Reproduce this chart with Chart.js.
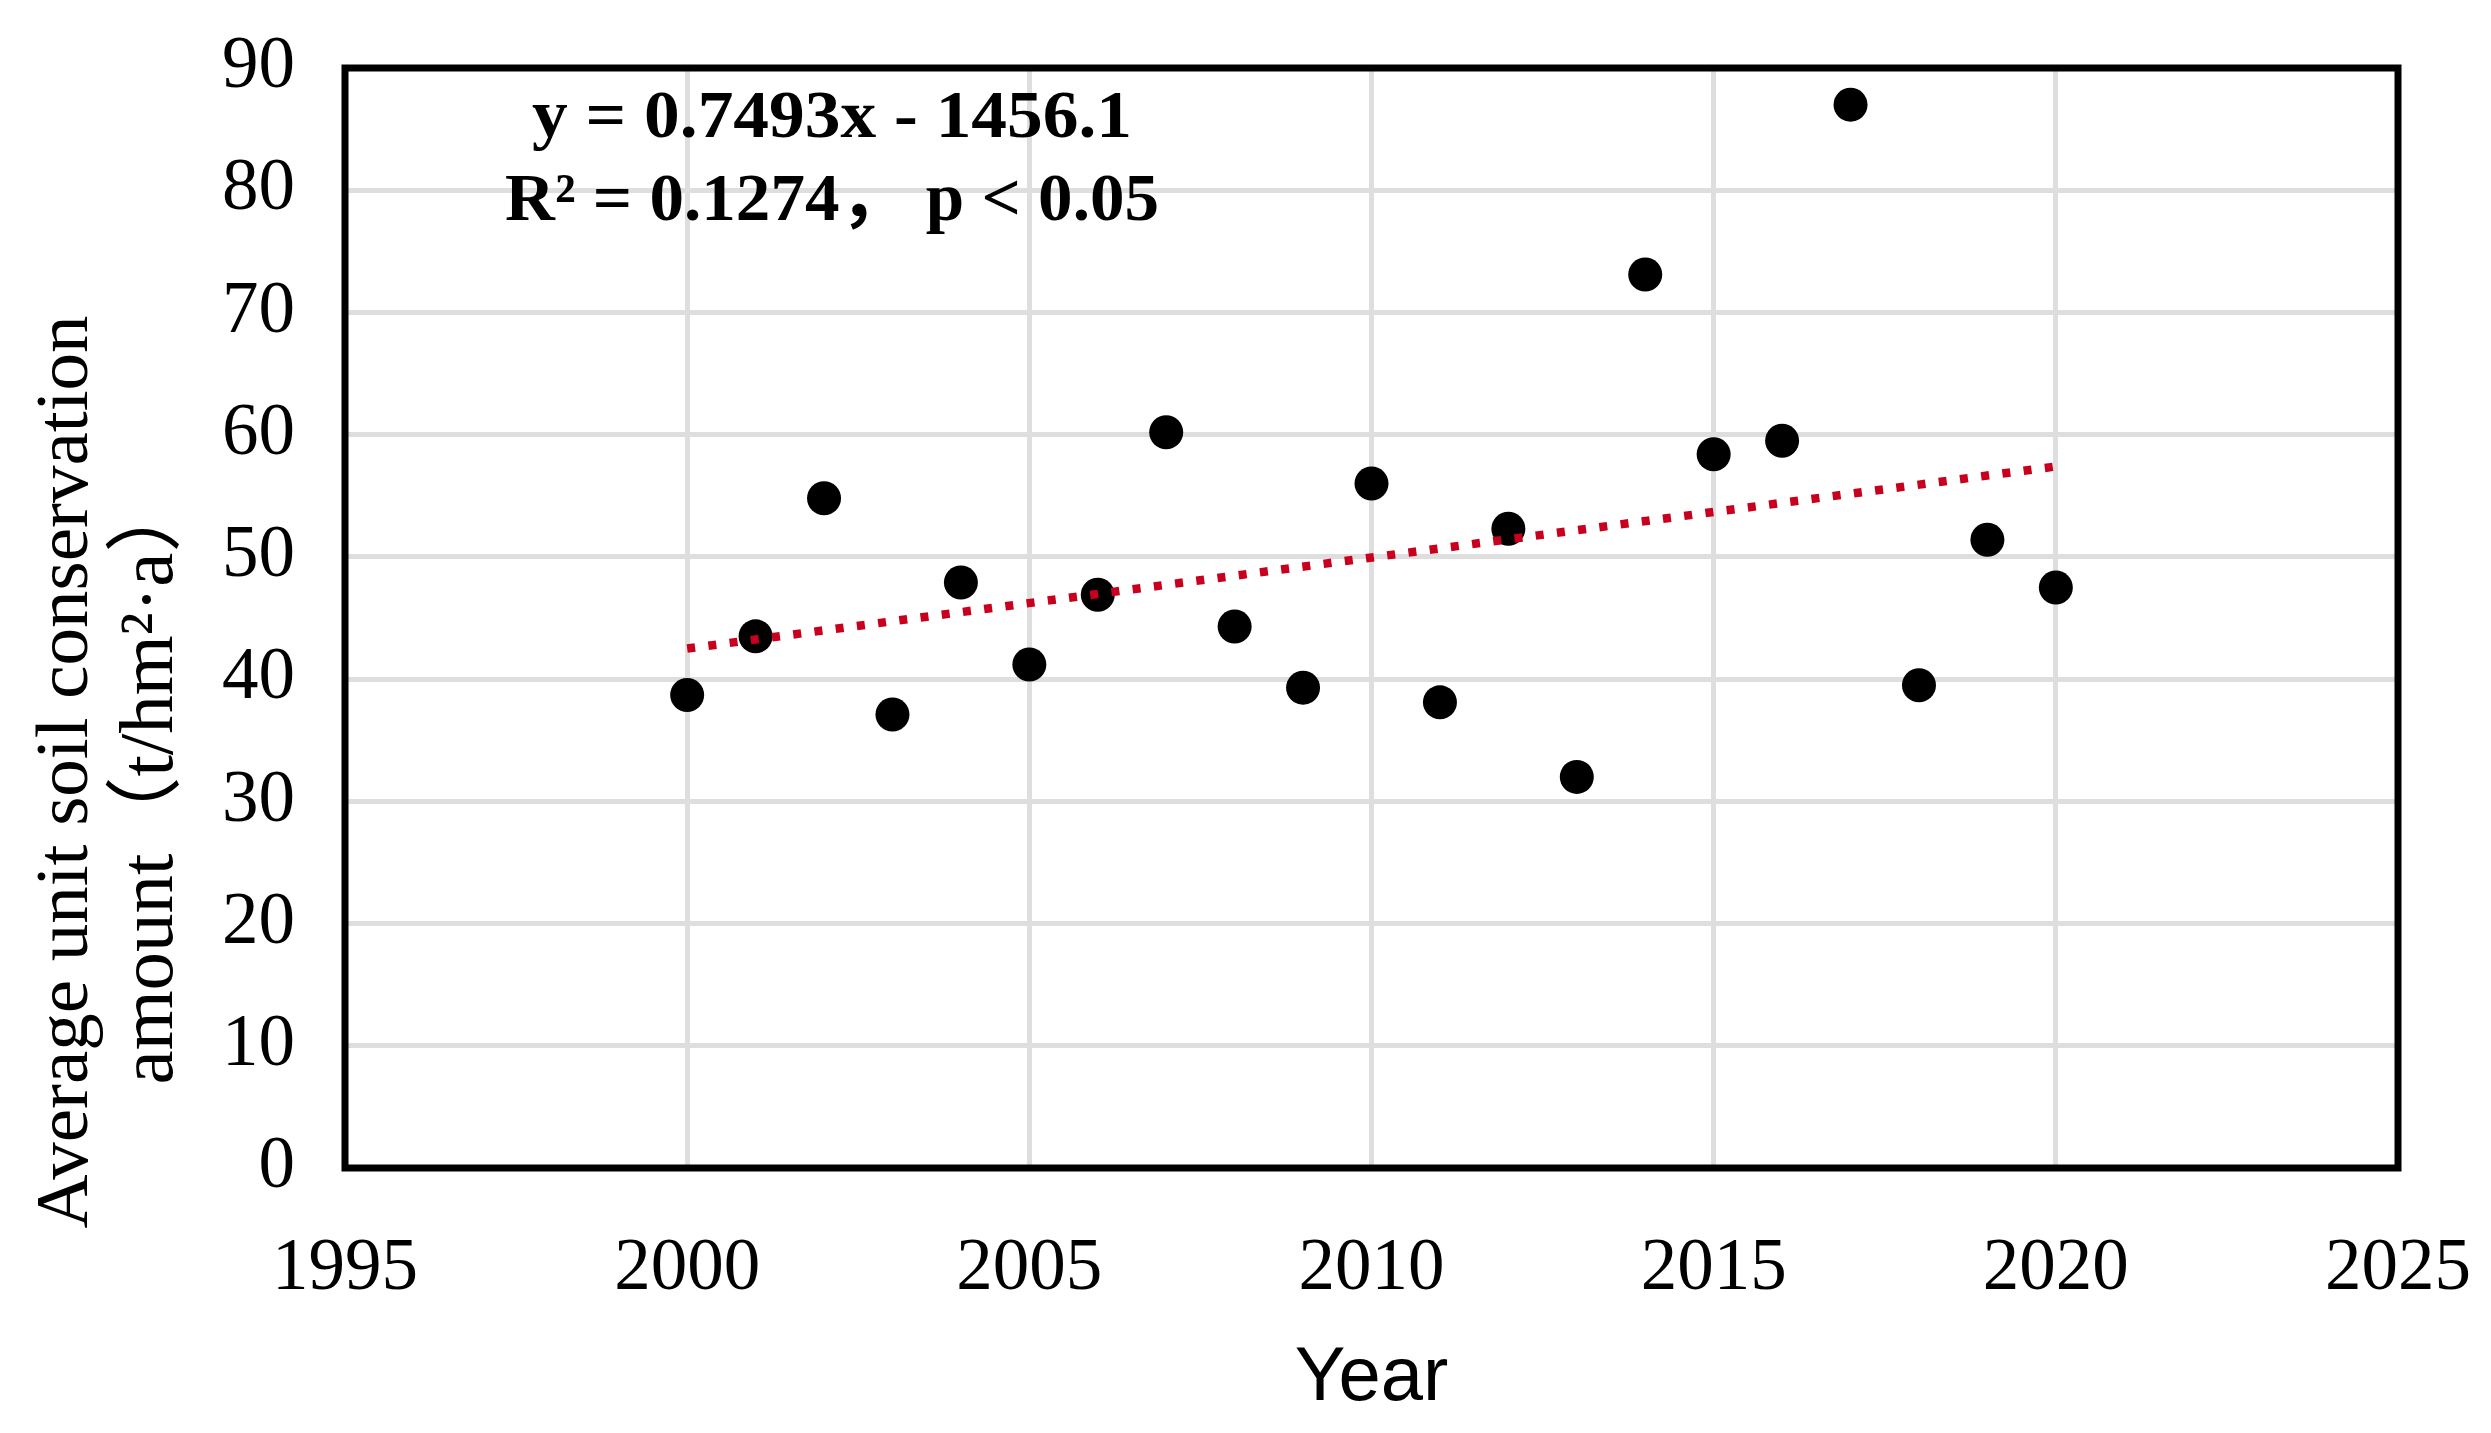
<!DOCTYPE html>
<html>
<head>
<meta charset="utf-8">
<title>Average unit soil conservation amount</title>
<script src="https://cdn.jsdelivr.net/npm/chart.js@4.4.1/dist/chart.umd.min.js"></script>
<style>
  body { margin: 0; background: #fff; }
  #wrap { width: 2491px; height: 1433px; position: relative; }
</style>
</head>
<body>
<div id="wrap"><canvas id="soilChart"></canvas></div>
<script>
// Values
const years = [2000, 2001, 2002, 2003, 2004, 2005, 2006, 2007, 2008, 2009, 2010,
               2011, 2012, 2013, 2014, 2015, 2016, 2017, 2018, 2019, 2020];
const soilValues = [38.7, 43.5, 54.8, 37.1, 47.9, 41.2, 46.9, 60.2, 44.3, 39.3, 56.0,
                    38.1, 52.3, 32.0, 73.1, 58.4, 59.5, 87.0, 39.5, 51.4, 47.5];
// Linear trend line end points
const trendYears = [2000, 2020];
const trendValues = [42.5, 57.4];
// Tick labels
const xTicks = [1995, 2000, 2005, 2010, 2015, 2020, 2025];
const yTicks = [0, 10, 20, 30, 40, 50, 60, 70, 80, 90];
// Texts
const equationLines = ['y = 0.7493x - 1456.1', 'R\u00b2 = 0.1274\uff0c p < 0.05'];
const yTitleLines = ['Average unit soil conservation', 'amount\uff08t/hm\u00b2\u00b7a\uff09'];

const serif = '"Liberation Serif", "Times New Roman", "Noto Sans CJK SC", serif';

// Frame, regression text and the two-line y title
const decorations = {
    id: 'decorations',
    beforeDatasetsDraw(chart) {
        const { ctx, chartArea: a } = chart;
        ctx.save();
        ctx.strokeStyle = '#000';
        ctx.lineWidth = 7;
        ctx.strokeRect(a.left, a.top, a.right - a.left, a.bottom - a.top);
        ctx.restore();
    },
    afterDraw(chart) {
        const ctx = chart.ctx;
        ctx.save();
        ctx.fillStyle = '#000';
        ctx.textAlign = 'center';
        ctx.textBaseline = 'alphabetic';

        // regression equation, fitted to the width it has in the figure
        ctx.font = 'bold 68px ' + serif;
        const eqPos = [[832, 137, 600], [832, 220, 654]];
        equationLines.forEach((line, i) => {
            const [x, y, w] = eqPos[i];
            const sx = w / ctx.measureText(line).width;
            ctx.save();
            ctx.translate(x, y);
            ctx.scale(sx, 1);
            ctx.fillText(line, 0, 0);
            ctx.restore();
        });

        // y axis title
        const titlePos = [[87, 772, 75], [172, 780, 77]];
        yTitleLines.forEach((line, i) => {
            const [x, y, size] = titlePos[i];
            ctx.font = size + 'px ' + serif;
            ctx.save();
            ctx.translate(x, y);
            ctx.rotate(-Math.PI / 2);
            ctx.fillText(line, 0, 0);
            ctx.restore();
        });
        ctx.restore();
    }
};

const ctx = document.getElementById('soilChart').getContext('2d');
new Chart(ctx, {
    type: 'scatter',
    data: {
        datasets: [
            {
                type: 'line',
                label: 'Trend',
                data: trendYears.map((x, i) => ({ x, y: trendValues[i] })),
                borderColor: '#c8001e',
                borderWidth: 8.5,
                borderDash: [8, 13.4],
                borderCapStyle: 'butt',
                pointRadius: 0,
                fill: false,
                order: 0
            },
            {
                label: 'Soil conservation',
                data: years.map((x, i) => ({ x, y: soilValues[i] })),
                backgroundColor: '#000',
                borderWidth: 0,
                pointRadius: 17,
                pointHoverRadius: 17,
                order: 1
            }
        ]
    },
    plugins: [decorations],
    options: {
        responsive: true,
        maintainAspectRatio: false,
        animation: false,
        layout: { padding: { left: 0, top: 68, right: 93, bottom: 0 } },
        plugins: {
            legend: { display: false },
            tooltip: { enabled: false }
        },
        scales: {
            x: {
                type: 'linear',
                min: 1995,
                max: 2025,
                afterBuildTicks: scale => { scale.ticks = xTicks.map(v => ({ value: v })); },
                afterFit: scale => {
                    scale.height = 265;
                    scale.paddingLeft = 0;
                    scale.paddingRight = 0;
                },
                grid: { color: '#dedede', lineWidth: 5, drawTicks: false },
                border: { display: false },
                ticks: {
                    color: '#000',
                    padding: 58,
                    maxRotation: 0,
                    font: { family: serif, size: 73 },
                    callback: v => String(v)
                },
                title: {
                    display: true,
                    text: 'Year',
                    color: '#000',
                    font: { family: '"Liberation Sans", Arial, sans-serif', size: 76 },
                    padding: { top: 0, bottom: 8 }
                }
            },
            y: {
                min: 0,
                max: 90,
                afterBuildTicks: scale => { scale.ticks = yTicks.map(v => ({ value: v })); },
                afterFit: scale => {
                    scale.width = 345;
                    scale.paddingTop = 0;
                    scale.paddingBottom = 0;
                },
                grid: { color: '#dedede', lineWidth: 5, drawTicks: false },
                border: { display: false },
                ticks: {
                    color: '#000',
                    padding: 50,
                    font: { family: serif, size: 73 }
                }
            }
        }
    }
});
</script>
</body>
</html>
